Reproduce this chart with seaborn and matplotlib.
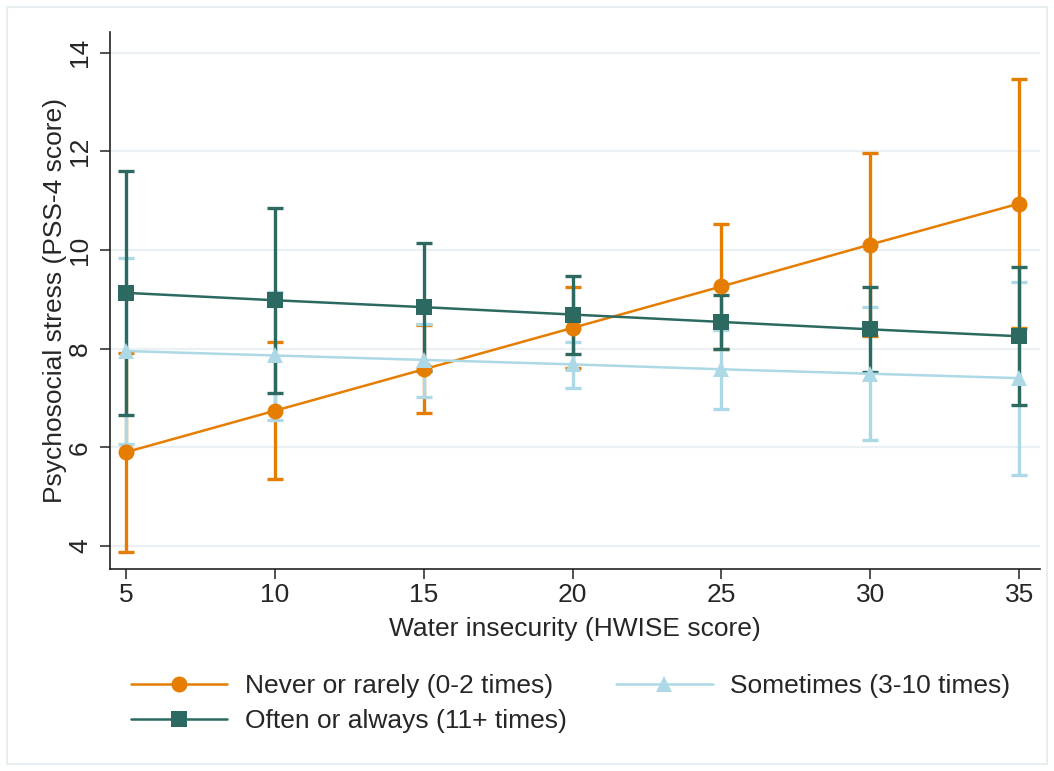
import matplotlib
matplotlib.use('Agg')
import matplotlib.pyplot as plt
import seaborn as sns
import pandas as pd
from matplotlib.patches import Rectangle

# Predicted PSS-4 score with 95% CI, by HWISE score and frequency group
hwise = [5, 10, 15, 20, 25, 30, 35]

never_mean = [5.90, 6.74, 7.58, 8.42, 9.26, 10.11, 10.94]
never_lo = [3.88, 5.35, 6.69, 7.60, 8.00, 8.26, 8.42]
never_hi = [7.92, 8.14, 8.48, 9.25, 10.52, 11.96, 13.46]

sometimes_mean = [7.95, 7.86, 7.77, 7.68, 7.58, 7.49, 7.40]
sometimes_lo = [6.06, 6.56, 7.02, 7.20, 6.78, 6.14, 5.44]
sometimes_hi = [9.84, 9.15, 8.50, 8.14, 8.37, 8.84, 9.34]

often_mean = [9.13, 8.98, 8.84, 8.69, 8.54, 8.39, 8.25]
often_lo = [6.65, 7.10, 7.54, 7.90, 8.00, 7.53, 6.86]
often_hi = [11.60, 10.86, 10.14, 9.48, 9.09, 9.25, 9.65]

groups = ['Never or rarely (0-2 times)', 'Sometimes (3-10 times)',
          'Often or always (11+ times)']
colors = ['#E57E00', '#ADD8E6', '#2C6A61']
markers = ['o', '^', 's']

means = [never_mean, sometimes_mean, often_mean]
lows = [never_lo, sometimes_lo, often_lo]
highs = [never_hi, sometimes_hi, often_hi]

rows = []
for g, m, lo, hi in zip(groups, means, lows, highs):
    for x, v, l, h in zip(hwise, m, lo, hi):
        rows.append({'HWISE': x, 'PSS': v, 'lo': l, 'hi': h, 'Group': g})
df = pd.DataFrame(rows)

sns.set_style('white')
plt.rcParams['font.family'] = ['Liberation Sans', 'DejaVu Sans']

fig = plt.figure(figsize=(10.54, 7.71), dpi=100)
ax = fig.add_axes([0.1044, 0.262, 0.8823, 0.6965])

# light grid
for yv in [4, 6, 8, 10, 12, 14]:
    ax.axhline(yv, color='#EAF0F3', linewidth=1.6, zorder=0)

# confidence intervals
for g, c in zip(groups, colors):
    sub = df[df['Group'] == g]
    ax.errorbar(sub['HWISE'], sub['PSS'],
                yerr=[sub['PSS'] - sub['lo'], sub['hi'] - sub['PSS']],
                fmt='none', ecolor=c, elinewidth=2.4, capsize=5.5,
                capthick=2.4, zorder=2)

# connected means
sns.lineplot(data=df, x='HWISE', y='PSS', hue='Group', style='Group',
             hue_order=groups, style_order=groups,
             palette=dict(zip(groups, colors)),
             markers=dict(zip(groups, markers)), dashes=False,
             markersize=11.5, markeredgewidth=0, linewidth=1.8,
             legend=False, ax=ax, zorder=3)

ax.set_xlim(4.46, 35.7)
ax.set_ylim(3.53, 14.42)
ax.set_xticks(hwise)
ax.set_yticks([4, 6, 8, 10, 12, 14])
ax.tick_params(axis='both', direction='out', length=7, width=1.2,
               color='#333333', labelsize=19, bottom=True, left=True)
ax.tick_params(axis='x', pad=3)
ax.tick_params(axis='y', pad=6)
for lab in ax.get_yticklabels():
    lab.set_rotation(90)
    lab.set_va('center')

for s in ['top', 'right']:
    ax.spines[s].set_visible(False)
for s in ['left', 'bottom']:
    ax.spines[s].set_color('#222222')
    ax.spines[s].set_linewidth(1.2)

ax.set_xlabel('Water insecurity (HWISE score)', fontsize=19, labelpad=7)
ax.set_ylabel('Psychosocial stress (PSS-4 score)', fontsize=19, labelpad=0.5)

# legend below the plot
handles = []
for g, c, mk in zip(groups, colors, markers):
    h, = ax.plot([], [], color=c, marker=mk, markersize=11.5,
                 markeredgewidth=0, linewidth=1.8, label=g)
    handles.append(h)
order = [0, 2, 1]
fig.legend([handles[i] for i in order], [groups[i] for i in order],
           ncol=2, loc='upper left', bbox_to_anchor=(0.124, 0.126),
           frameon=False, fontsize=19, handlelength=3.65,
           handletextpad=0.68, columnspacing=1.87, labelspacing=0.42,
           borderaxespad=0, borderpad=0)

# faint outer frame
fig.patches.append(Rectangle((0.007, 0.009), 0.986, 0.982,
                             transform=fig.transFigure, fill=False,
                             edgecolor='#E6EEF1', linewidth=1.5))

fig.savefig('out.png', dpi=100)
